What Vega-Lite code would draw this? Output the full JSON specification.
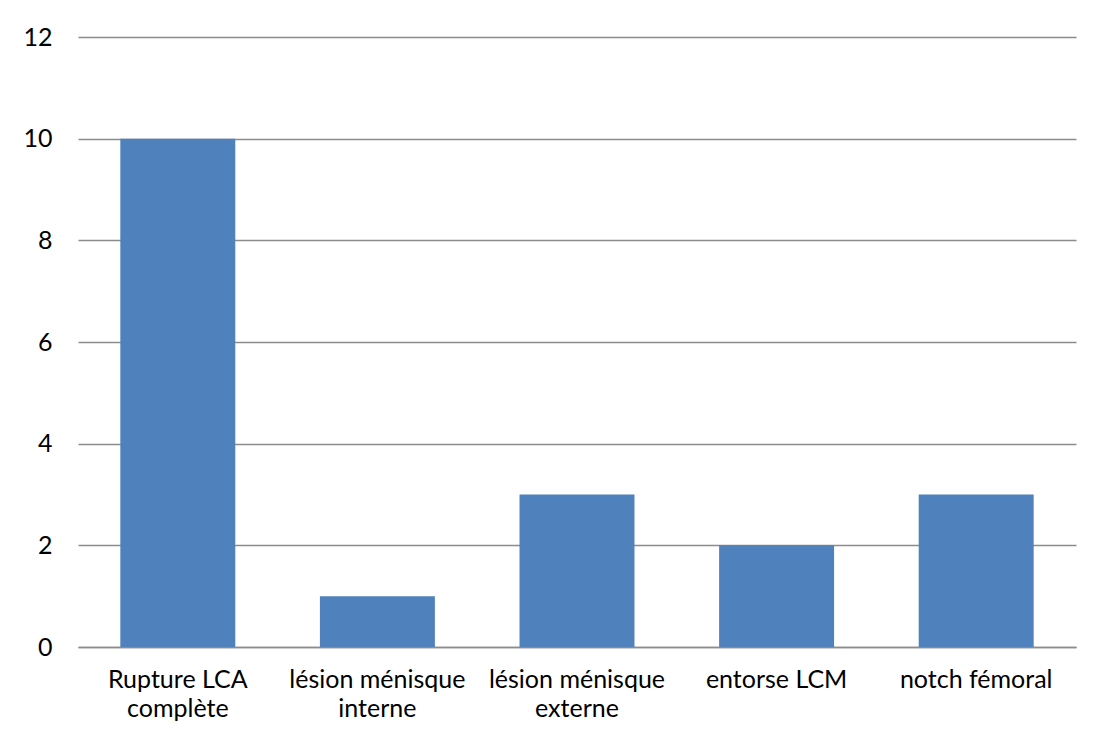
{
  "$schema": "https://vega.github.io/schema/vega-lite/v6.json",
  "autosize": {"type": "none"},
  "width": 998,
  "height": 610,
  "padding": {"left": 78, "top": 37, "right": 21, "bottom": 95},
  "background": "white",
  "data": {
    "values": [
      {"categorie": "Rupture LCA complète", "valeur": 10},
      {"categorie": "lésion ménisque interne", "valeur": 1},
      {"categorie": "lésion ménisque externe", "valeur": 3},
      {"categorie": "entorse LCM", "valeur": 2},
      {"categorie": "notch fémoral", "valeur": 3}
    ]
  },
  "mark": {"type": "bar", "color": "#4F81BD"},
  "encoding": {
    "x": {
      "field": "categorie",
      "type": "nominal",
      "sort": null,
      "scale": {"paddingInner": 0.424, "paddingOuter": 0.212},
      "axis": {
        "title": null,
        "labelAngle": 0,
        "ticks": false,
        "domain": true,
        "domainColor": "#8C8C8C",
        "domainWidth": 1.5,
        "labelFont": "Lato",
        "labelFontSize": 25,
        "labelColor": "#000000",
        "labelPadding": 20,
        "labelLineHeight": 29,
        "labelLimit": 300,
        "labelExpr": "datum.value == 'Rupture LCA complète' ? ['Rupture LCA', 'complète'] : datum.value == 'lésion ménisque interne' ? ['lésion ménisque', 'interne'] : datum.value == 'lésion ménisque externe' ? ['lésion ménisque', 'externe'] : datum.value"
      }
    },
    "y": {
      "field": "valeur",
      "type": "quantitative",
      "scale": {"domain": [0, 12]},
      "axis": {
        "title": null,
        "values": [0, 2, 4, 6, 8, 10, 12],
        "domain": false,
        "ticks": false,
        "grid": true,
        "gridColor": "#8C8C8C",
        "gridWidth": 1.5,
        "labelFont": "Lato",
        "labelFontSize": 25,
        "labelColor": "#000000",
        "labelPadding": 26
      }
    }
  },
  "config": {"view": {"stroke": null}}
}
